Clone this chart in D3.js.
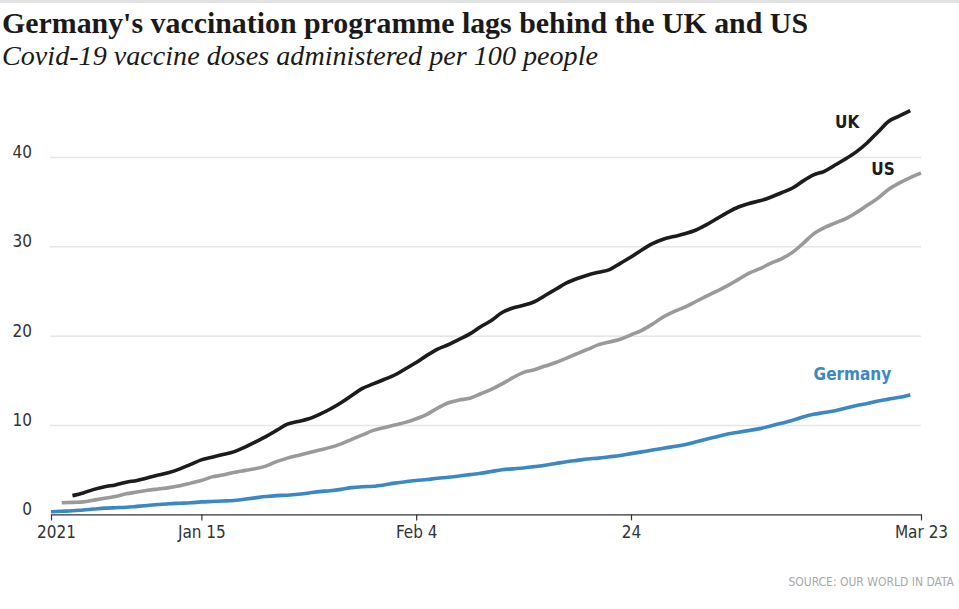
<!DOCTYPE html>
<html>
<head>
<meta charset="utf-8">
<script src="https://cdn.jsdelivr.net/npm/d3@7"></script>
<style>
  html, body { margin: 0; padding: 0; background: #fff; }
  svg { display: block; }
</style>
</head>
<body>
<svg id="chart" width="959" height="609"></svg>
<script>
// ---- data (doses per 100 people, daily) ----
const xTickDates  = ["2021-01-01", "2021-01-15", "2021-02-04", "2021-02-24", "2021-03-23"];
const xTickLabels = ["2021", "Jan 15", "Feb 4", "24", "Mar 23"];
const yTicks = [0, 10, 20, 30, 40];

const ukStart = "2021-01-03";
const ukValues = [2.1, 2.4, 2.8, 3.1, 3.3, 3.6, 3.8, 4.1, 4.4, 4.7,
  5.1, 5.6, 6.1, 6.4, 6.7, 7.0, 7.5, 8.1, 8.7, 9.4,
  10.1, 10.4, 10.7, 11.2, 11.8, 12.5, 13.3, 14.1, 14.6, 15.1,
  15.6, 16.3, 17.0, 17.8, 18.5, 19.0, 19.6, 20.2, 21.0, 21.7,
  22.6, 23.1, 23.4, 23.8, 24.5, 25.2, 25.9, 26.4, 26.8, 27.1,
  27.4, 28.1, 28.8, 29.6, 30.3, 30.8, 31.1, 31.4, 31.8, 32.4,
  33.1, 33.8, 34.4, 34.8, 35.1, 35.5, 36.0, 36.5, 37.3, 38.0,
  38.4, 39.1, 39.8, 40.6, 41.6, 42.8, 44.0, 44.6, 45.2];

const usStart = "2021-01-02";
const usValues = [1.3, 1.35, 1.4, 1.6, 1.8, 2.0, 2.3, 2.5, 2.7, 2.85,
  3.0, 3.2, 3.5, 3.8, 4.2, 4.4, 4.7, 4.9, 5.1, 5.4,
  5.9, 6.3, 6.6, 6.9, 7.2, 7.5, 7.9, 8.4, 8.9, 9.4,
  9.7, 10.0, 10.3, 10.7, 11.2, 11.9, 12.5, 12.8, 13.0, 13.5,
  14.0, 14.6, 15.3, 15.9, 16.2, 16.6, 17.0, 17.5, 18.0, 18.5,
  19.0, 19.3, 19.6, 20.1, 20.6, 21.3, 22.1, 22.7, 23.2, 23.8,
  24.4, 25.0, 25.6, 26.3, 27.0, 27.5, 28.1, 28.6, 29.3, 30.3,
  31.4, 32.1, 32.6, 33.1, 33.8, 34.6, 35.4, 36.4, 37.1, 37.7,
  38.2];

const deStart = "2021-01-01";
const deValues = [0.3, 0.35, 0.4, 0.5, 0.6, 0.7, 0.75, 0.8, 0.9, 1.0,
  1.1, 1.2, 1.25, 1.3, 1.4, 1.45, 1.5, 1.55, 1.7, 1.85,
  2.0, 2.1, 2.15, 2.25, 2.4, 2.55, 2.65, 2.8, 3.0, 3.1,
  3.15, 3.3, 3.5, 3.65, 3.8, 3.9, 4.05, 4.15, 4.3, 4.45,
  4.6, 4.8, 5.0, 5.1, 5.2, 5.35, 5.5, 5.7, 5.9, 6.05,
  6.2, 6.3, 6.45, 6.6, 6.8, 7.0, 7.2, 7.4, 7.6, 7.8,
  8.1, 8.4, 8.7, 9.0, 9.2, 9.4, 9.6, 9.9, 10.2, 10.5,
  10.9, 11.2, 11.4, 11.6, 11.9, 12.2, 12.4, 12.7, 12.9, 13.1,
  13.4];

const seriesNames  = ["UK", "US", "Germany"];
const seriesColors = ["#1c1c1c", "#9a9a9a", "#3b88c5"];

// ---- build ----
const parse = d3.utcParse("%Y-%m-%d");
function toPoints(start, values) {
  const s = parse(start);
  return values.map((v, i) => ({ date: d3.utcDay.offset(s, i), value: v }));
}
const series = [
  { name: seriesNames[0], color: seriesColors[0], pts: toPoints(ukStart, ukValues) },
  { name: seriesNames[1], color: seriesColors[1], pts: toPoints(usStart, usValues) },
  { name: seriesNames[2], color: seriesColors[2], pts: toPoints(deStart, deValues) }
];

const svg = d3.select("#chart");
const W = 959;
const sans = "'DejaVu Sans Condensed', 'DejaVu Sans', sans-serif";

// top rule
svg.append("rect").attr("x", 0).attr("y", 0).attr("width", W).attr("height", 3).attr("fill", "#e2e2e2");

// title & subtitle
svg.append("text")
  .attr("x", 2).attr("y", 33)
  .attr("font-family", "'Liberation Serif', 'DejaVu Serif', serif")
  .attr("font-weight", "bold").attr("font-size", 29)
  .attr("fill", "#1a1a1a")
  .attr("textLength", 806).attr("lengthAdjust", "spacingAndGlyphs")
  .text("Germany's vaccination programme lags behind the UK and US");

svg.append("text")
  .attr("x", 2).attr("y", 65)
  .attr("font-family", "'Liberation Serif', 'DejaVu Serif', serif")
  .attr("font-style", "italic").attr("font-size", 27)
  .attr("fill", "#1a1a1a")
  .attr("textLength", 596).attr("lengthAdjust", "spacingAndGlyphs")
  .text("Covid-19 vaccine doses administered per 100 people");

const x = d3.scaleUtc()
  .domain([parse(xTickDates[0]), parse(xTickDates[xTickDates.length - 1])])
  .range([51, 921]);
const y = d3.scaleLinear().domain([0, 40]).range([514.4, 157]);

// y grid + labels
const yAxis = svg.append("g")
  .attr("transform", "translate(50,0)")
  .call(d3.axisLeft(y).tickValues(yTicks).tickSize(-871).tickPadding(18).tickFormat(d3.format("d")));
yAxis.select(".domain").remove();
yAxis.selectAll(".tick line").attr("stroke", "#e6e6e6").attr("stroke-width", 1.5);
yAxis.selectAll(".tick").filter(d => d === 0).select("line").remove();
yAxis.selectAll(".tick text")
  .attr("font-family", sans).attr("font-size", 17).attr("fill", "#333")
  .attr("dy", "0.02em");

// x axis
const xAxis = svg.append("g")
  .attr("transform", `translate(0,${y(0)})`)
  .call(d3.axisBottom(x)
    .tickValues(xTickDates.map(parse))
    .tickSize(6).tickSizeOuter(0).tickPadding(6)
    .tickFormat((d, i) => xTickLabels[i]));
xAxis.select(".domain").attr("stroke", "#333").attr("stroke-width", 1.2);
xAxis.selectAll(".tick line").attr("stroke", "#333").attr("stroke-width", 1.2);
xAxis.selectAll(".tick text")
  .attr("font-family", sans).attr("font-size", 17).attr("fill", "#333");
xAxis.selectAll(".tick text").filter((d, i) => i === 0).attr("dx", 5);

// lines
const line = d3.line().x(d => x(d.date)).y(d => y(d.value)).curve(d3.curveMonotoneX);
svg.append("g").selectAll("path")
  .data(series.slice().reverse())
  .join("path")
  .attr("d", d => line(d.pts))
  .attr("fill", "none")
  .attr("stroke", d => d.color)
  .attr("stroke-width", 3.6)
  .attr("stroke-linejoin", "round")
  .attr("stroke-linecap", "butt");

// series labels (start-anchored at a date/value in the chart's own scales)
const labelDates  = ["2021-03-15T00:00:00Z", "2021-03-18T09:00:00Z", "2021-03-13T00:00:00Z"];
const labelValues = [43.2, 38.0, 15.0];
svg.append("g").selectAll("text")
  .data(series)
  .join("text")
  .attr("x", (d, i) => x(d3.isoParse(labelDates[i])))
  .attr("y", (d, i) => y(labelValues[i]))
  .attr("text-anchor", "start")
  .attr("font-family", sans).attr("font-weight", "bold").attr("font-size", 17)
  .attr("fill", (d, i) => i === 1 ? "#1c1c1c" : d.color)
  .text(d => d.name);

// source
svg.append("text")
  .attr("x", 954).attr("y", 586)
  .attr("text-anchor", "end")
  .attr("font-family", sans).attr("font-size", 12)
  .attr("fill", "#a8a8a8")
  .text("SOURCE: OUR WORLD IN DATA");
</script>
</body>
</html>
